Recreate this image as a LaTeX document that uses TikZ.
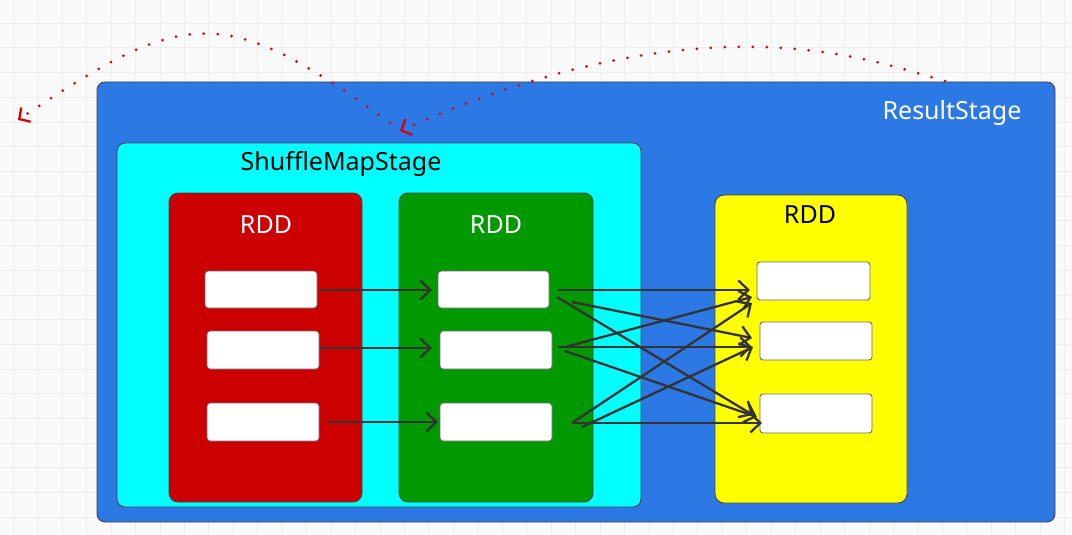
\documentclass[tikz,border=0pt]{standalone}
\usepackage{fontspec}
\setmainfont{Noto Sans}
\usetikzlibrary{arrows.meta,calc}
\definecolor{rsblue}{RGB}{44,120,228}
\definecolor{smcyan}{RGB}{0,255,255}
\definecolor{rddred}{RGB}{204,0,0}
\definecolor{rddgreen}{RGB}{0,153,0}
\definecolor{rddyellow}{RGB}{255,255,0}
\definecolor{edgegray}{RGB}{68,68,68}
\definecolor{arrowgray}{RGB}{51,51,51}
\definecolor{gridgray}{RGB}{238,238,238}
\definecolor{dotred}{RGB}{220,0,0}
\begin{document}
\begin{tikzpicture}[x=1pt,y=-1pt,
  stagebox/.style={draw=edgegray,line width=0.9pt,rounded corners=8pt,inner sep=0pt,outer sep=0pt},
  rddbox/.style={draw=edgegray,line width=0.9pt,rounded corners=9pt,inner sep=0pt,outer sep=0pt,minimum width=193pt,minimum height=309pt},
  partbox/.style={draw=edgegray!80,fill=white,line width=0.9pt,rounded corners=3pt,inner sep=0pt,outer sep=0pt,minimum width=112pt,minimum height=38pt},
  lbl/.style={font=\fontsize{25}{29}\selectfont,inner sep=0pt},
  flow/.style={draw=arrowgray,line width=2.3pt,-{Straight Barb[length=10pt,width=19pt,line width=2.3pt]}},
  dep/.style={draw=dotred,line width=3pt,line cap=round,dash pattern=on 0pt off 14pt,
    -{Straight Barb[length=8pt,width=17pt,line width=2.3pt,line cap=butt]}}
]
\useasboundingbox (0,0) rectangle (1072,535);
\fill[white!98!black] (0,0) rectangle (1072,535);
\foreach \gx in {0,...,43} \draw[gridgray,line width=1pt] ({13.3+24.45*\gx},0) -- ({13.3+24.45*\gx},535);
\foreach \gy in {0,...,21} \draw[gridgray,line width=1pt] (0,{23.3+24.7*\gy}) -- (1072,{23.3+24.7*\gy});

% stages
\node[stagebox,fill=rsblue,minimum width=958pt,minimum height=440pt] (rs) at (576,302) {};
\node[lbl,text=white] (rslbl) at (952,113) {ResultStage};
\node[stagebox,fill=smcyan,minimum width=524pt,minimum height=364pt] (sm) at (379,325) {};
\node[lbl,text=black] (smlbl) at (341,164) {ShuffleMapStage};

% RDDs
\node[rddbox,fill=rddred] (rdda) at (265.5,347.5) {};
\node[rddbox,fill=rddgreen,minimum width=194pt] (rddb) at (496,347.5) {};
\node[rddbox,fill=rddyellow,minimum width=192pt,minimum height=308pt] (rddc) at (811,349) {};
\node[lbl,text=white] (la) at (266,225) {RDD};
\node[lbl,text=white] (lb) at (496,225) {RDD};
\node[lbl,text=black] (lc) at (810,215) {RDD};

% partitions
\node[partbox,minimum height=37pt] (r1) at (261,289.5) {};
\node[partbox] (r2) at (263,350) {};
\node[partbox] (r3) at (263,422) {};
\node[partbox,minimum width=111pt,minimum height=37pt] (g1) at (493.5,289.5) {};
\node[partbox] (g2) at (496,350) {};
\node[partbox] (g3) at (496,422) {};
\node[partbox,minimum width=113pt] (y1) at (813.5,281) {};
\node[partbox] (y2) at (816,341) {};
\node[partbox,minimum height=39pt] (y3) at (816,413.5) {};

% narrow dependencies
\draw[flow] ([shift={(3,0.5)}]r1.east) -- ([shift={(-6,0.5)}]g1.west);
\draw[flow] ([shift={(1,-2)}]r2.east) -- ([shift={(-8,-2)}]g2.west);
\draw[flow] ([shift={(8,0)}]r3.east) -- ([shift={(-2,0)}]g3.west);

% shuffle dependencies
\draw[flow] ([shift={(9,0.5)}]g1.east) -- ([shift={(-7,9)}]y1.west);
\draw[flow] ([shift={(8,7.5)}]g1.east) -- ([shift={(-7,1.5)}]y3.west);
\draw[flow] ([shift={(23,12.5)}]g1.east) -- ([shift={(-8,-3)}]y2.west);
\draw[flow] ([shift={(6,-3)}]g2.east) -- ([shift={(-8,6)}]y2.west);
\draw[flow] ([shift={(13,-3)}]g2.east) -- ([shift={(-5,16)}]y1.west);
\draw[flow] ([shift={(13,1)}]g2.east) -- ([shift={(-3,3.5)}]y3.west);
\draw[flow] ([shift={(20,1)}]g3.east) -- ([shift={(2,9.5)}]y3.west);
\draw[flow] ([shift={(20,1)}]g3.east) -- ([shift={(-5,22)}]y1.west);
\draw[flow] ([shift={(30,5)}]g3.east) -- ([shift={(-7,6)}]y2.west);

% stage dependencies
\coordinate (rsTop) at (945,81);
\coordinate (smTop) at (400,131);
\coordinate (smFrom) at (390,123);
\coordinate (parent) at (18,120);
\draw[dep] (rsTop) .. controls (870,60) and (705,-5) .. (smTop);
\draw[dep] (smFrom) .. controls (223,1) and (185,8) .. (parent);
\end{tikzpicture}
\end{document}
